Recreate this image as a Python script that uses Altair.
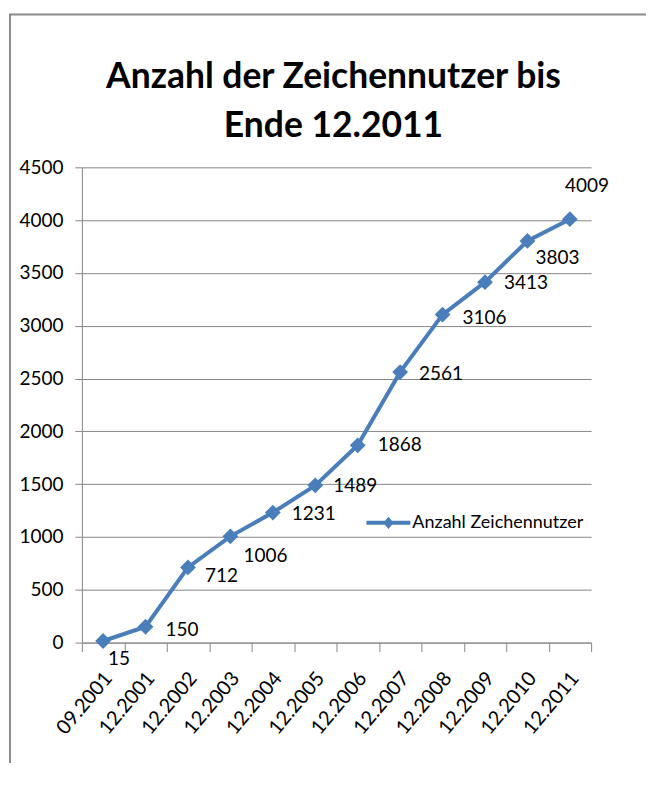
import json
import altair as alt
import pandas as pd

# ---- data ----
categories = ["09.2001", "12.2001", "12.2002", "12.2003", "12.2004", "12.2005",
              "12.2006", "12.2007", "12.2008", "12.2009", "12.2010", "12.2011"]
values = [15, 150, 712, 1006, 1231, 1489, 1868, 2561, 3106, 3413, 3803, 4009]
series_name = "Anzahl Zeichennutzer"
title_lines = ["Anzahl der Zeichennutzer bis", "Ende 12.2011"]
y_ticks = [0, 500, 1000, 1500, 2000, 2500, 3000, 3500, 4000, 4500]

df = pd.DataFrame({
    "idx": list(range(len(categories))),
    "period": categories,
    "value": values,
    "series": [series_name] * len(categories),
})

# ---- style ----
LINE = "#4A7EBB"
GRID = "#868686"
FONT = "Lato"
W, H = 510, 476

# label placement (pixel offsets from the marker), per period
label_offsets = {
    "09.2001": (5, 18), "12.2001": (20, 3), "12.2002": (17, 9), "12.2003": (13, 20),
    "12.2004": (19, 1), "12.2005": (18, 1), "12.2006": (20, 0), "12.2007": (19, 2),
    "12.2008": (20, 3), "12.2009": (19, 1), "12.2010": (8, 17), "12.2011": (-5, -33),
}

xscale = alt.Scale(domain=[-0.5, len(categories) - 0.5], nice=False, zero=False)
yscale = alt.Scale(domain=[0, 4500], nice=False)

base = alt.Chart(df)

y_enc = alt.Y("value:Q", scale=yscale, title=None,
              axis=alt.Axis(values=y_ticks, format="d", grid=True, gridColor=GRID, gridWidth=1,
                            domainColor=GRID, tickColor=GRID, tickSize=7,
                            labelPadding=12, labelFont=FONT, labelFontSize=19,
                            labelColor="#000000"))
x_plain = alt.X("idx:Q", scale=xscale, axis=None)
y_plain = alt.Y("value:Q", scale=yscale)

line = base.mark_line(color=LINE, strokeWidth=4).encode(
    x=alt.X("idx:Q", scale=xscale, title=None,
            axis=alt.Axis(orient="bottom", values=list(range(len(categories))),
                          labelExpr=json.dumps(categories) + "[datum.value]",
                          ticks=False, grid=False, domainColor=GRID, domainWidth=1,
                          labelAngle=-50, labelAlign="right", labelBaseline="middle",
                          labelPadding=32, labelOffset=5, labelFont=FONT, labelFontSize=20,
                          labelColor="#000000", labelOverlap=False)),
    y=y_enc,
)

symbol_path = "M-1,-0.09L1,-0.09L1,0.09L-1,0.09Z M0,-0.28L0.24,0L0,0.28L-0.24,0Z"

points = base.mark_point(shape="diamond", filled=True, size=250, opacity=1).encode(
    x=x_plain,
    y=y_plain,
    color=alt.Color("series:N", scale=alt.Scale(range=[LINE]),
                    legend=alt.Legend(title=None, orient="none", legendX=285, legendY=334,
                                      symbolType=symbol_path, symbolSize=1936,
                                      symbolFillColor=LINE, symbolStrokeWidth=0,
                                      labelFont=FONT, labelFontSize=18, labelLimit=0,
                                      labelColor="#000000", labelOffset=2, padding=0)),
)

ticks_layer = base.mark_point(opacity=0).encode(
    x=alt.X("idx:Q", scale=xscale, title=None,
            axis=alt.Axis(orient="bottom", values=[i - 0.5 for i in range(len(categories) + 1)],
                          labels=False, ticks=True, tickSize=9, tickColor=GRID,
                          domain=False, grid=False)),
    y=y_plain,
)

text_layers = []
for period, (dx, dy) in label_offsets.items():
    text_layers.append(
        base.transform_filter(alt.datum.period == period)
        .mark_text(align="left", baseline="middle", dx=dx, dy=dy,
                   font=FONT, fontSize=19, color="#000000")
        .encode(x=x_plain, y=y_plain, text=alt.Text("value:Q"))
    )

one = pd.DataFrame({"k": [0]})
# chart title, drawn as text above the plot area
title_mark = alt.Chart(one).mark_text(
    text="\n".join(title_lines), lineBreak="\n", lineHeight=49,
    font=FONT, fontSize=35.5, fontWeight="bold", color="#000000",
    align="center", baseline="alphabetic",
).encode(x=alt.value(W / 2 - 3), y=alt.value(-79))

frame_left = alt.Chart(one).mark_rule(color="#8a8a8a", strokeWidth=2).encode(
    x=alt.value(-72), y=alt.value(-153), y2=alt.value(700))
frame_top = alt.Chart(one).mark_rule(color="#8a8a8a", strokeWidth=2).encode(
    x=alt.value(-73), x2=alt.value(700), y=alt.value(-153))

chart = alt.layer(line, points, ticks_layer, *text_layers, title_mark,
                  frame_left, frame_top).resolve_axis(
    x="independent"
).properties(
    width=W, height=H,
    autosize=alt.AutoSizeParams(type="none"),
    padding={"left": 74, "top": 159, "right": 55, "bottom": 120},
).configure_view(stroke=None)

chart.save("out.html", embed_options={"renderer": "svg", "actions": False})
